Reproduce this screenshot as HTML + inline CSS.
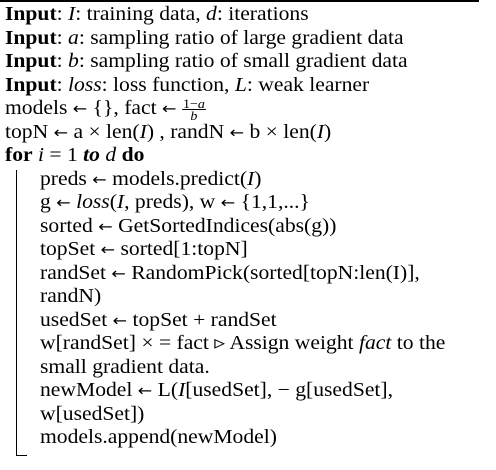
<!DOCTYPE html>
<html><head><meta charset="utf-8"><style>
html,body{margin:0;padding:0;background:#fff;}
#algo{position:relative;width:496px;height:470px;overflow:hidden;font-family:"Liberation Serif",serif;font-size:20px;color:#000;}
.rule{position:absolute;left:0;top:0;width:479px;height:2px;background:#000;}
.ln{position:absolute;left:5px;white-space:nowrap;line-height:23.4px;transform:scaleX(1.08);transform-origin:0 50%;}
.in{left:40px;}
.bar{position:absolute;left:16px;top:170px;width:1.3px;height:286px;background:#000;}
.foot{position:absolute;left:16px;top:455px;width:11px;height:1.3px;background:#000;}
i{font-style:italic;}
.ar{font-family:"DejaVu Sans",sans-serif;font-size:16px;}
.frac{display:inline-block;vertical-align:middle;text-align:center;font-size:13px;line-height:11px;}
.frac span{display:block;}
.frac .num{border-bottom:1px solid #000;padding:0 1px;}
</style></head><body>
<div id="algo">
<div class="rule"></div>
<div class="ln" style="top:3px"><b>Input</b>: <i>I</i>: training data, <i>d</i>: iterations</div>
<div class="ln" style="top:27px"><b>Input</b>: <i>a</i>: sampling ratio of large gradient data</div>
<div class="ln" style="top:50px"><b>Input</b>: <i>b</i>: sampling ratio of small gradient data</div>
<div class="ln" style="top:74px"><b>Input</b>: <i>loss</i>: loss function, <i>L</i>: weak learner</div>
<div class="ln" style="top:97px">models <span class="ar">←</span> {}, fact <span class="ar">←</span> <span class="frac"><span class="num">1−<i>a</i></span><span><i>b</i></span></span></div>
<div class="ln" style="top:121px">topN <span class="ar">←</span> a × len(<i>I</i>) , randN <span class="ar">←</span> b × len(<i>I</i>)</div>
<div class="ln" style="top:144px"><b>for</b> <i>i</i> = 1 <b><i>to</i></b> <i>d</i> <b>do</b></div>
<div class="bar"></div>
<div class="foot"></div>
<div class="ln in" style="top:168px">preds <span class="ar">←</span> models.predict(<i>I</i>)</div>
<div class="ln in" style="top:191px">g <span class="ar">←</span> <i>loss</i>(<i>I</i>, preds), w <span class="ar">←</span> {1,1,...}</div>
<div class="ln in" style="top:215px">sorted <span class="ar">←</span> GetSortedIndices(abs(g))</div>
<div class="ln in" style="top:238px">topSet <span class="ar">←</span> sorted[1:topN]</div>
<div class="ln in" style="top:262px">randSet <span class="ar">←</span> RandomPick(sorted[topN:len(I)],</div>
<div class="ln in" style="top:285px">randN)</div>
<div class="ln in" style="top:309px">usedSet <span class="ar">←</span> topSet + randSet</div>
<div class="ln in" style="top:332px">w[randSet] × = fact ▹ Assign weight <i>fact</i> to the</div>
<div class="ln in" style="top:356px">small gradient data.</div>
<div class="ln in" style="top:379px">newModel <span class="ar">←</span> L(<i>I</i>[usedSet], − g[usedSet],</div>
<div class="ln in" style="top:403px">w[usedSet])</div>
<div class="ln in" style="top:426px">models.append(newModel)</div>
</div>
</body></html>
